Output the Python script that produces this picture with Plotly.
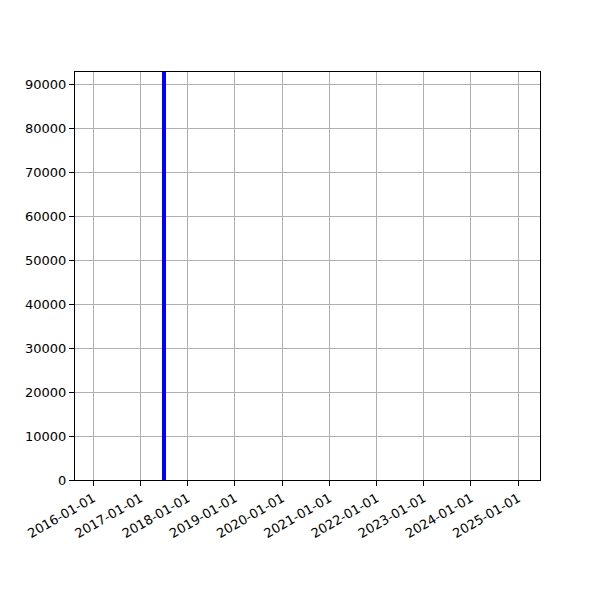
import plotly.graph_objects as go

# data
dates = ["2017-07-01"]
counts = [92800]
tick_dates = [f"{y}-01-01" for y in range(2016, 2026)]

DAY_MS = 24 * 60 * 60 * 1000

fig = go.Figure()
fig.add_trace(go.Bar(
    x=dates,
    y=counts,
    width=[31 * DAY_MS] * len(dates),
    marker=dict(color="blue", line=dict(width=0)),
))

axis_style = dict(
    showline=True,
    linecolor="black",
    linewidth=1,
    mirror=True,
    ticks="outside",
    ticklen=5,
    tickcolor="black",
    showgrid=True,
    gridcolor="#b0b0b0",
    gridwidth=1,
    zeroline=False,
    tickfont=dict(family="DejaVu Sans", size=13, color="black"),
)

fig.update_xaxes(
    type="date",
    range=["2015-08-13", "2025-06-18"],
    tickvals=tick_dates,
    ticktext=tick_dates,
    tickangle=-30,
    **axis_style
)
fig.update_yaxes(
    range=[0, 92800],
    tickvals=list(range(0, 90001, 10000)),
    tickformat="d",
    **axis_style
)

# the page adds an 8px body margin, so margins are offset by that
fig.update_layout(
    width=600,
    height=600,
    margin=dict(l=67, r=68, t=64, b=128),
    plot_bgcolor="white",
    paper_bgcolor="white",
    showlegend=False,
    bargap=0,
)

fig.write_html("out.html")
